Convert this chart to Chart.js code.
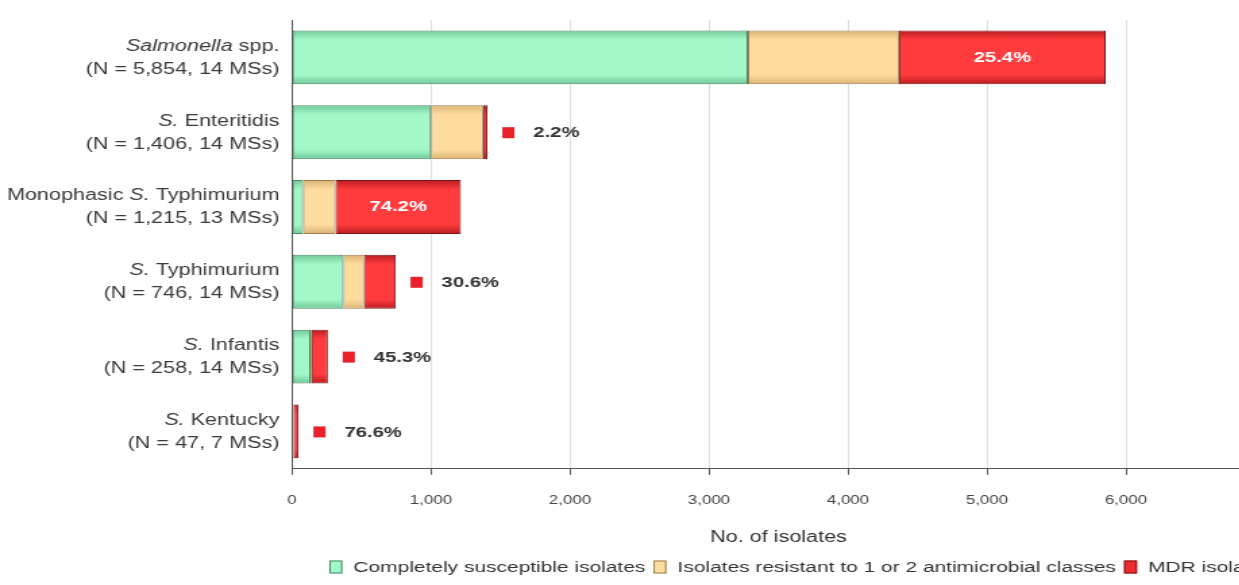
<!DOCTYPE html>
<html>
<head>
<meta charset="utf-8">
<script src="https://cdn.jsdelivr.net/npm/chart.js@4.4.1/dist/chart.umd.min.js"></script>
<style>
  html, body { margin: 0; padding: 0; background: #fff; overflow: hidden; width: 1239px; height: 585px; }
  /* the source figure is stretched sideways, so the chart is drawn narrow and widened */
  #wrap { width: 1000px; height: 585px; position: relative; transform: scaleX(1.35); transform-origin: 0 0; }
</style>
</head>
<body>
<div id="wrap"><canvas id="isolatesChart"></canvas></div>
<script>
// categories (text between * is drawn in italics)
var categoryNames = ["*Salmonella* spp.", "*S.* Enteritidis", "Monophasic *S.* Typhimurium", "*S.* Typhimurium", "*S.* Infantis", "*S.* Kentucky"];
var sampleLabels = ["(N = 5,854, 14 MSs)", "(N = 1,406, 14 MSs)", "(N = 1,215, 13 MSs)", "(N = 746, 14 MSs)", "(N = 258, 14 MSs)", "(N = 47, 7 MSs)"];

// number of isolates per group
var susceptibleValues = [3280, 1000, 80, 370, 133, 8];
var resistantValues = [1087, 375, 233, 148, 8, 3];
var mdrValues = [1487, 31, 902, 228, 117, 36];

// % MDR labels, and whether they sit inside the red segment
var mdrLabels = ["25.4%", "2.2%", "74.2%", "30.6%", "45.3%", "76.6%"];
var mdrInside = [true, false, true, false, false, false];

var seriesNames = ["Completely susceptible isolates", "Isolates resistant to 1 or 2 antimicrobial classes", "MDR isolates"];
var xTicks = [0, 1000, 2000, 3000, 4000, 5000, 6000, 7000];

var BAR_PCT = 0.72;
var FONT = "'Liberation Sans', Arial, sans-serif";
var fills = ["#a3f8c9", "#fedc9e", "#ee2b2e"];
var strokes = ["#4a8862", "#9c7d4c", "#7d1418"];

// vertical shading per bar row, built from the y scale
function rowGradient(context, edge, mid) {
  var chart = context.chart;
  var y = chart.scales.y;
  var area = chart.chartArea;
  if (!area || !y) return mid;
  var g = chart.ctx.createLinearGradient(0, area.top, 0, area.bottom);
  var span = area.bottom - area.top;
  for (var i = 0; i < categoryNames.length; i++) {
    var c = y.getPixelForValue(i);
    var half = (span / categoryNames.length) * BAR_PCT / 2;
    var t = (c - half - area.top) / span, b = (c + half - area.top) / span;
    t = Math.max(0, Math.min(1, t)); b = Math.max(0, Math.min(1, b));
    var m = (t + b) / 2;
    g.addColorStop(t, edge);
    g.addColorStop(t + (m - t) * 0.35, mid);
    g.addColorStop(b - (b - m) * 0.35, mid);
    g.addColorStop(b, edge);
  }
  return g;
}

function drawMixed(ctx, text, xRight, y, size) {
  var parts = text.split("*");
  var widths = [], total = 0;
  for (var i = 0; i < parts.length; i++) {
    ctx.font = (i % 2 ? "italic " : "") + size + "px " + FONT;
    widths[i] = ctx.measureText(parts[i]).width;
    total += widths[i];
  }
  var x = xRight - total;
  for (var j = 0; j < parts.length; j++) {
    ctx.font = (j % 2 ? "italic " : "") + size + "px " + FONT;
    ctx.fillText(parts[j], x, y);
    x += widths[j];
  }
}

var labelsPlugin = {
  id: "rowLabels",
  afterDraw: function(chart) {
    var ctx = chart.ctx;
    var xs = chart.scales.x, ys = chart.scales.y;
    ctx.save();
    ctx.textBaseline = "middle";
    ctx.textAlign = "left";
    for (var i = 0; i < categoryNames.length; i++) {
      var cy = ys.getPixelForValue(i);
      ctx.fillStyle = "#3a3a3a";
      drawMixed(ctx, categoryNames[i], 207, cy - 11, 16);
      drawMixed(ctx, sampleLabels[i], 207, cy + 12, 16);

      var start = susceptibleValues[i] + resistantValues[i];
      var end = start + mdrValues[i];
      ctx.font = "bold 15px " + FONT;
      if (mdrInside[i]) {
        var mx = (xs.getPixelForValue(start) + xs.getPixelForValue(end)) / 2;
        ctx.fillStyle = "#ffffff";
        ctx.textAlign = "center";
        ctx.fillText(mdrLabels[i], mx, cy);
        ctx.textAlign = "left";
      } else {
        var ex = xs.getPixelForValue(end);
        ctx.fillStyle = "#e8202a";
        ctx.fillRect(ex + 11, cy - 5, 9, 11);
        ctx.fillStyle = "#333";
        ctx.fillText(mdrLabels[i], ex + 34, cy + 1);
      }
    }

    // legend row, items flow left to right
    var lx = 244, ly = 567;
    ctx.font = "15.5px " + FONT;
    for (var k = 0; k < seriesNames.length; k++) {
      ctx.fillStyle = fills[k];
      ctx.fillRect(lx, ly - 6.5, 9.6, 13);
      ctx.strokeStyle = strokes[k];
      ctx.lineWidth = 1;
      ctx.strokeRect(lx + 0.5, ly - 6, 8.6, 12);
      ctx.fillStyle = "#333";
      ctx.fillText(seriesNames[k], lx + 17.8, ly + 1);
      lx += 17.8 + ctx.measureText(seriesNames[k]).width + 6;
    }
    ctx.restore();
  }
};

new Chart("isolatesChart", {
  type: "bar",
  data: {
    labels: categoryNames,
    datasets: [{
      label: seriesNames[0],
      data: susceptibleValues,
      backgroundColor: function(c) { return rowGradient(c, "#6fc99a", "#a3f8c9"); },
      borderColor: strokes[0],
      borderWidth: 1,
      borderSkipped: false
    }, {
      label: seriesNames[1],
      data: resistantValues,
      backgroundColor: function(c) { return rowGradient(c, "#d9b374", "#fedc9e"); },
      borderColor: strokes[1],
      borderWidth: 1,
      borderSkipped: false
    }, {
      label: seriesNames[2],
      data: mdrValues,
      backgroundColor: function(c) { return rowGradient(c, "#b81c20", "#ff3b3d"); },
      borderColor: strokes[2],
      borderWidth: 1,
      borderSkipped: false
    }]
  },
  options: {
    indexAxis: "y",
    responsive: true,
    maintainAspectRatio: false,
    animation: false,
    barPercentage: BAR_PCT,
    categoryPercentage: 1,
    layout: { padding: { left: 208.3, right: 63, top: 20, bottom: 38 } },
    scales: {
      x: {
        stacked: true,
        min: 0,
        max: 7000,
        afterBuildTicks: function(axis) {
          axis.ticks = xTicks.map(function(v) { return { value: v }; });
        },
        grid: { color: "#dedede", tickColor: "#555", tickLength: 6 },
        border: { color: "#555", width: 1 },
        ticks: {
          color: "#444",
          padding: 18,
          font: { family: FONT, size: 12.5 },
          callback: function(v) { return v.toLocaleString("en-US"); }
        },
        title: {
          display: true,
          text: "No. of isolates",
          color: "#333",
          font: { family: FONT, size: 16 },
          padding: { top: 2, bottom: 0 }
        }
      },
      y: {
        stacked: true,
        grid: { display: false },
        border: { color: "#555", width: 1 },
        ticks: { display: false }
      }
    },
    plugins: {
      legend: { display: false },
      tooltip: { enabled: false }
    }
  },
  plugins: [labelsPlugin]
});
</script>
</body>
</html>
